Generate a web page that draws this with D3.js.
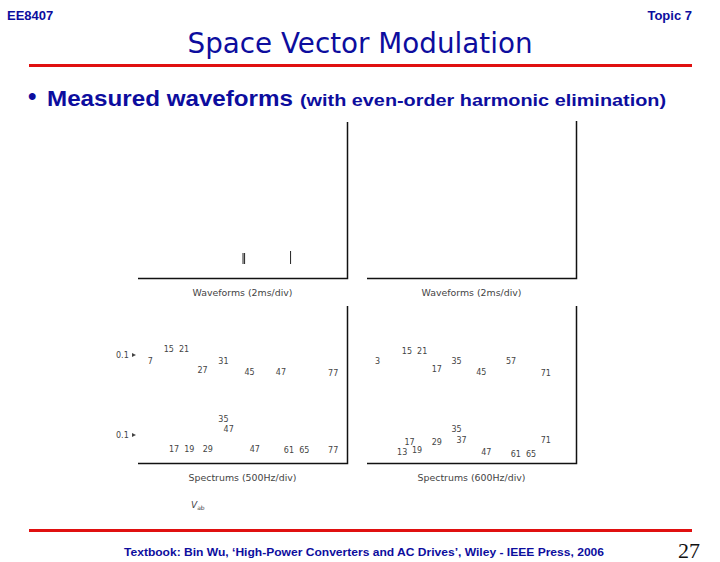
<!DOCTYPE html>
<html>
<head>
<meta charset="utf-8">
<script src="https://cdn.jsdelivr.net/npm/d3@7"></script>
<style>
body{margin:0;background:#fff;}
svg{display:block;}
</style>
</head>
<body>
<div id="chart"></div>
<script>
// slide texts
const headerLeft="EE8407";
const headerRight="Topic 7";
const title="Space Vector Modulation";
const bulletMain="Measured waveforms";
const bulletSub="(with even-order harmonic elimination)";
const footer="Textbook: Bin Wu, \u2018High-Power Converters and AC Drives\u2019, Wiley - IEEE Press, 2006";
const pageNo="27";

// panel captions
const waveCaption="Waveforms  (2ms/div)";
const specCaptions=["Spectrums  (500Hz/div)","Spectrums  (600Hz/div)"];

// waveform fragments still visible (ms, top-left panel)
const waveMarks=[10.05,10.2,14.6];

// harmonic labels: order and magnitude (p.u.)
const leftUpperH=["7","15 21","27","31","45","47","77"];
const leftUpperX=[7,17,27,35,45,57,77];
const leftUpperV=[0.08,0.117,0.05,0.08,0.043,0.043,0.037];

const leftLowerH=["35","47","17 19","29","47","61 65","77"];
const leftLowerX=[35,37,19,29,47,63,77];
const leftLowerV=[0.154,0.118,0.05,0.05,0.05,0.043,0.043];

const rightUpperH=["3","15 21","17","35","45","57","71"];
const rightUpperX=[3,18,27,35,45,57,71];
const rightUpperV=[0.08,0.113,0.053,0.077,0.043,0.077,0.04];

const rightLowerH=["35","17","29","37","71","13","19","47","61 65"];
const rightLowerX=[35,16,27,37,71,13,19,47,62];
const rightLowerV=[0.118,0.075,0.075,0.079,0.079,0.036,0.046,0.036,0.032];

const W=720,H=562;
const blue="#0d0d9e";
const svg=d3.select("#chart").append("svg").attr("width",W).attr("height",H);

// header
svg.append("text").attr("x",7).attr("y",20).text(headerLeft)
  .attr("font-family","Liberation Sans, Arial").attr("font-weight","bold").attr("font-size",13).attr("fill",blue);
svg.append("text").attr("x",692).attr("y",20).attr("text-anchor","end").text(headerRight)
  .attr("font-family","Liberation Sans, Arial").attr("font-weight","bold").attr("font-size",13).attr("fill",blue);
svg.append("text").attr("x",360).attr("y",53).attr("text-anchor","middle").text(title)
  .attr("font-family","DejaVu Sans").attr("font-size",27.5).attr("fill",blue)
  .attr("textLength",345).attr("lengthAdjust","spacingAndGlyphs");

svg.append("line").attr("x1",29).attr("x2",692).attr("y1",65.5).attr("y2",65.5)
  .attr("stroke","#e01010").attr("stroke-width",3);
svg.append("line").attr("x1",29).attr("x2",692).attr("y1",530.5).attr("y2",530.5)
  .attr("stroke","#e01010").attr("stroke-width",3);

const bf={"font-family":"Liberation Sans, Arial","font-weight":"bold","fill":blue};
function bfont(sel){Object.entries(bf).forEach(([k,v])=>sel.attr(k,v));return sel;}
bfont(svg.append("text").attr("x",28).attr("y",104).attr("font-size",24).text("\u2022"));
bfont(svg.append("text").attr("x",47).attr("y",106).attr("font-size",22).text(bulletMain)
  .attr("textLength",246).attr("lengthAdjust","spacingAndGlyphs"));
bfont(svg.append("text").attr("x",300).attr("y",106).attr("font-size",16.5).text(bulletSub)
  .attr("textLength",366).attr("lengthAdjust","spacingAndGlyphs"));

svg.append("text").attr("x",364).attr("y",556).attr("text-anchor","middle").text(footer)
  .attr("font-family","Liberation Sans, Arial").attr("font-weight","bold").attr("font-size",10.5)
  .attr("fill",blue).attr("textLength",480).attr("lengthAdjust","spacingAndGlyphs");
svg.append("text").attr("x",700).attr("y",558).attr("text-anchor","end").text(pageNo)
  .attr("font-family","Liberation Serif, Times New Roman").attr("font-size",22).attr("fill","#111");

// panels
const panels=[
  {x0:138,x1:347,yTop:122,yBot:278},
  {x0:367,x1:576,yTop:121,yBot:278},
  {x0:138,x1:347,yTop:306,yBot:463},
  {x0:367,x1:576,yTop:306,yBot:463}
];

const axisFont={"font-family":"DejaVu Sans","font-size":8,"fill":"#444"};
function applyFont(sel){Object.entries(axisFont).forEach(([k,v])=>sel.attr(k,v));return sel;}

panels.forEach(function(p,i){
  const g=svg.append("g");
  g.append("path").attr("d",`M${p.x0},${p.yBot+0.5}H${p.x1+0.5}V${p.yTop}`)
    .attr("fill","none").attr("stroke","#111").attr("stroke-width",1.5);
  const cap=i<2?waveCaption:specCaptions[i-2];
  applyFont(g.append("text").attr("x",(p.x0+p.x1)/2).attr("y",p.yBot+18).attr("text-anchor","middle").text(cap))
    .attr("font-size",8.5).attr("textLength",i<2?100:108).attr("lengthAdjust","spacingAndGlyphs");
});

// waveform fragments
const tScale=d3.scaleLinear().domain([0,20]).range([panels[0].x0,panels[0].x1]);
svg.selectAll(".wm").data(waveMarks).enter().append("line").attr("class","wm")
  .attr("x1",d=>tScale(d)).attr("x2",d=>tScale(d))
  .attr("y1",(d,i)=>i===2?251:253).attr("y2",264)
  .attr("stroke","#222").attr("stroke-width",1);

// spectrum scales
const xLeft=d3.scaleLinear().domain([0,80]).range([132,341]);
const xRight=d3.scaleLinear().domain([0,80]).range([370,568]);
const yUpper=d3.scaleLinear().domain([0,0.1]).range([385,355]);
const yLower=d3.scaleLinear().domain([0,0.1]).range([463,435]);

function drawLabels(names,xs,vs,xs_,ys_){
  const data=names.map((n,i)=>({n:n,h:xs[i],v:vs[i]}));
  applyFont(svg.append("g").selectAll("text").data(data).enter().append("text")
    .attr("x",d=>xs_(d.h)).attr("y",d=>ys_(d.v)).attr("text-anchor","middle")
    .attr("dominant-baseline","middle").attr("xml:space","preserve").text(d=>d.n.replace(" ","  ")));
}
drawLabels(leftUpperH,leftUpperX,leftUpperV,xLeft,yUpper);
drawLabels(leftLowerH,leftLowerX,leftLowerV,xLeft,yLower);
drawLabels(rightUpperH,rightUpperX,rightUpperV,xRight,yUpper);
drawLabels(rightLowerH,rightLowerX,rightLowerV,xRight,yLower);

// 0.1 reference marks
[yUpper,yLower].forEach(function(ys){
  applyFont(svg.append("text").attr("x",116).attr("y",ys(0.1)).attr("dominant-baseline","middle").text("0.1"));
  svg.append("path").attr("d",`M132,${ys(0.1)-2}L136,${ys(0.1)}L132,${ys(0.1)+2}Z`).attr("fill","#444");
});

// line label
const vab=applyFont(svg.append("text").attr("x",191).attr("y",508));
vab.append("tspan").attr("font-style","italic").attr("font-size",9).text("V");
vab.append("tspan").attr("font-size",6).attr("dy",2).text("ab");
</script>
</body>
</html>
